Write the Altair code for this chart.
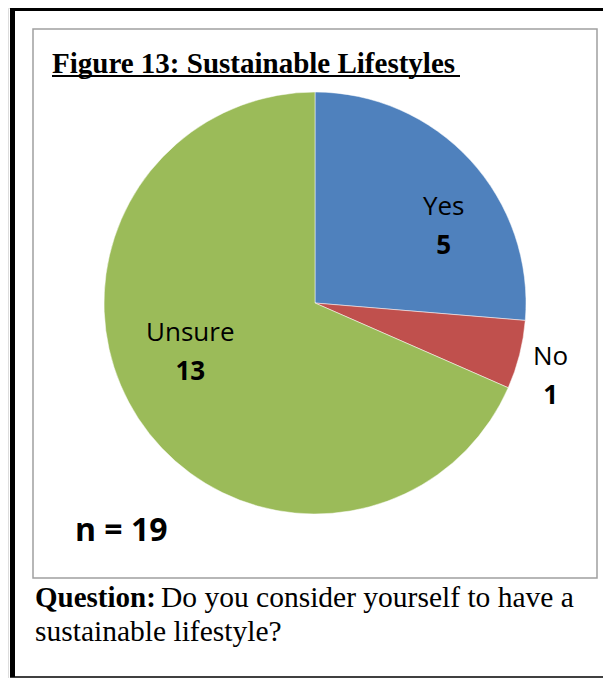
import altair as alt
import pandas as pd

# ---- data ----
categories = ["Yes", "No", "Unsure"]
values = [5, 1, 13]
slice_order = [1, 2, 3]
colors = ["#4F81BD", "#C0504D", "#9BBB59"]

title_text = "Figure 13: Sustainable Lifestyles"
n_text = "n = 19"
question_bold = "Question:"
question_line1 = "Do you consider yourself to have a"
question_line2 = "sustainable lifestyle?"

df = pd.DataFrame({"category": categories, "value": values, "order": slice_order})
one = pd.DataFrame({"a": [0]})

W, H = 595, 670
CX, CY = 307, 295
R = 211

SANS = "Open Sans"
SERIF = "Liberation Serif"

base = alt.Chart(df)

pie = base.mark_arc(radius=R, stroke="white", strokeWidth=0.5).encode(
    theta=alt.Theta("value:Q", stack=True),
    color=alt.Color("category:N", scale=alt.Scale(domain=categories, range=colors), legend=None),
    order=alt.Order("order:Q"),
    x=alt.value(CX),
    y=alt.value(CY),
)

labeled = base.transform_window(
    cum="sum(value)", sort=[alt.SortField("order")], frame=[None, 0]
).transform_calculate(
    mid="datum.cum - datum.value/2"
)


def label_layer(cat, radius, dy_name, dy_val):
    sel = labeled.transform_filter(alt.datum.category == cat)
    enc = dict(
        theta=alt.Theta("mid:Q", stack=None),
        radius=alt.value(radius),
        x=alt.value(CX),
        y=alt.value(CY),
    )
    name = sel.mark_text(font=SANS, fontSize=26, align="center", baseline="alphabetic",
                         dy=dy_name, color="black").encode(text="category:N", **enc)
    val = sel.mark_text(font=SANS, fontSize=26, fontWeight="bold", align="center",
                        baseline="alphabetic", dy=dy_val, color="black").encode(text="value:Q", **enc)
    return name + val


labels = label_layer("Yes", 175, 30.5, 69.5) + label_layer("No", 243, 2.3, 41.3) + label_layer("Unsure", 149, -43.5, -4.5)

ob = alt.Chart(one)
# outer black frame
outer_left = ob.mark_rule(color="black", strokeWidth=5).encode(x=alt.value(4.5), y=alt.value(0), y2=alt.value(669))
outer_top = ob.mark_rule(color="black", strokeWidth=5).encode(x=alt.value(2), x2=alt.value(W), y=alt.value(0.5))
outer_bottom = ob.mark_rule(color="black", strokeWidth=1.5).encode(x=alt.value(2), x2=alt.value(W), y=alt.value(669))

# inner grey frame
inner = ob.mark_rect(fill=None, stroke="#A0A0A0", strokeWidth=1.5).encode(
    x=alt.value(25), x2=alt.value(589), y=alt.value(21), y2=alt.value(570)
)

title = ob.mark_text(text=title_text, font=SERIF, fontSize=29, fontWeight="bold",
                     align="left", baseline="alphabetic", color="black").encode(x=alt.value(44), y=alt.value(65))
underline = ob.mark_rule(color="black", strokeWidth=2).encode(x=alt.value(44), x2=alt.value(452), y=alt.value(68))

n_label = ob.mark_text(text=n_text, font=SANS, fontSize=32, fontWeight="bold",
                       align="left", baseline="alphabetic", color="black").encode(x=alt.value(67), y=alt.value(533))

q_bold = ob.mark_text(text=question_bold, font=SERIF, fontSize=29, fontWeight="bold",
                      align="left", baseline="alphabetic", color="black").encode(x=alt.value(27), y=alt.value(599))
q_l1 = ob.mark_text(text=question_line1, font=SERIF, fontSize=29.5,
                    align="left", baseline="alphabetic", color="black").encode(x=alt.value(153), y=alt.value(599))
q_l2 = ob.mark_text(text=question_line2, font=SERIF, fontSize=29.5,
                    align="left", baseline="alphabetic", color="black").encode(x=alt.value(27), y=alt.value(633))

chart = alt.layer(
    inner, pie, labels, title, underline, n_label, q_bold, q_l1, q_l2,
    outer_left, outer_top, outer_bottom,
).properties(
    width=W, height=H, autosize=alt.AutoSizeParams(type="none"), padding=0,
).configure_view(stroke=None).configure(background="white")

chart.save("out.html", embed_options={"renderer": "svg", "actions": False})
